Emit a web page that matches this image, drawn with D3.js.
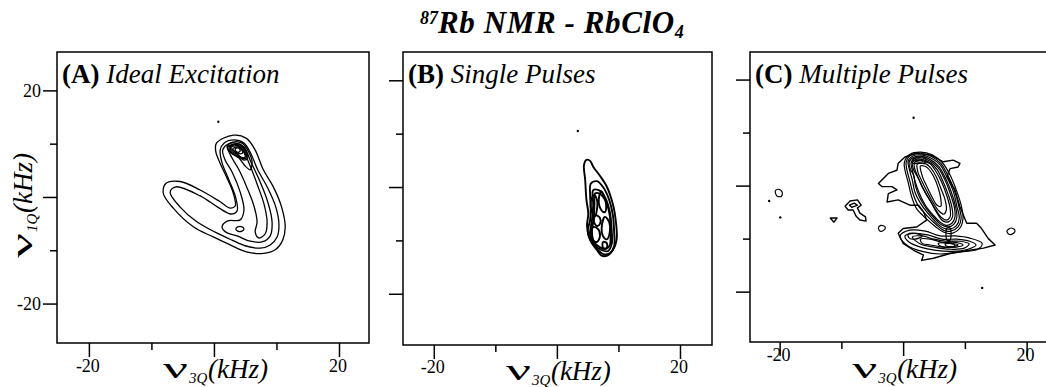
<!DOCTYPE html>
<html>
<head>
<meta charset="utf-8">
<script src="https://cdn.jsdelivr.net/npm/d3@7"></script>
<style>
  body { margin: 0; background: #fff; }
  svg { display: block; }
  text { font-family: "Liberation Serif", "Times New Roman", serif; fill: #000; }
</style>
</head>
<body>
<div id="chart"></div>
<script>
// ---- data (kHz) ----
const xTicks = [-20, -10, 0, 10, 20];
const yTicks = [20, 10, 0, -10, -20];
const majorTicks = [-20, 0, 20];
const xTickLabels = [-20, 20];
const yTickLabels = [20, -20];
const panelLetters = ['A', 'B', 'C'];
const panelTitles = ['Ideal Excitation', 'Single Pulses', 'Multiple Pulses'];

// (A) ideal excitation contours
const contoursA = [
  [[0.4,10.1],[3.1,11.6],[5.2,11.0],[6.6,8.8],[7.9,5.1],[9.5,1.9],[10.8,-1.8],[11.4,-5.6],[11.0,-8.1],[9.8,-9.9],[7.9,-10.6],[5.2,-10.3],[2.6,-9.0],[-0.1,-7.5],[-3.3,-5.6],[-6.5,-2.1],[-8.1,0.7],[-7.6,2.6],[-5.4,2.9],[-2.2,1.3],[1.0,-0.9],[2.6,-2.1],[3.4,-1.7],[3.1,0.7],[2.0,3.8],[1.0,6.3],[0.3,8.5]],
  [[-7.0,0.9],[-6.1,1.9],[-2.2,0.2],[0.6,-1.9],[2.7,-3.2],[3.7,-2.6],[3.5,-0.2],[2.4,3.2],[1.3,6.4],[1.0,8.8],[1.6,10.1],[3.2,10.7],[4.8,10.1],[5.8,8.4],[7.0,5.1],[8.6,1.7],[9.9,-1.9],[10.4,-5.2],[10.1,-7.5],[9.0,-9.0],[7.4,-9.6],[5.1,-9.2],[2.9,-8.1],[0.2,-6.6],[-2.9,-4.5],[-5.4,-1.9]],
  [[1.4,8.8],[2.2,9.9],[3.5,10.1],[4.8,9.4],[5.9,6.6],[7.4,2.8],[8.6,-0.9],[9.3,-4.7],[9.0,-7.3],[7.8,-8.4],[5.8,-8.3],[3.7,-7.3],[1.9,-6.6],[1.3,-5.6],[2.2,-4.5],[4.2,-4.3],[4.8,-2.4],[4.2,0.9],[2.9,4.7],[1.8,6.9]],
  [[2.2,9.4],[3.5,9.8],[4.6,8.8],[5.8,5.8],[7.0,2.1],[8.0,-1.3],[8.5,-4.7],[8.2,-6.9],[7.2,-7.7],[6.6,-6.6],[6.9,-4.7],[6.4,-1.7],[5.3,1.7],[4.0,5.1],[2.9,7.3]],
  [[3.5,-6.0],[3.8,-5.6],[4.5,-5.6],[4.8,-6.0],[4.5,-6.4],[3.8,-6.4]],
  [[2.1,9.4],[3.0,10.3],[4.5,10.1],[5.4,8.8],[6.1,6.6],[5.8,5.1],[5.0,5.8],[4.0,7.3],[2.7,8.3]],
  [[2.4,9.2],[3.2,9.9],[4.3,9.8],[5.1,8.6],[5.4,7.3],[4.8,6.9],[3.8,7.7],[2.7,8.4]],
  [[2.6,9.3],[3.3,9.8],[4.3,9.6],[5.0,8.5],[5.2,7.4],[4.6,7.2],[3.7,8.0],[2.8,8.6]],
  [[2.7,9.2],[3.4,9.6],[4.2,9.4],[4.8,8.4],[5.0,7.5],[4.3,7.5],[3.5,8.3]],
  [[3.0,9.0],[3.7,9.4],[4.3,9.0],[4.6,8.3],[4.2,8.1],[3.5,8.4]],
  [[3.4,9.0],[3.8,9.2],[4.2,8.8],[4.0,8.4],[3.5,8.6]]
];
const dotsA = [[0.7, 14.1]];

// (B) single pulses contours
const contoursB = [
  [[4.8,5.1],[5.4,4.9],[5.9,3.8],[7.0,2.1],[8.1,0.1],[8.9,-2.4],[9.4,-4.9],[9.7,-9.9],[9.1,-11.8],[8.1,-12.9],[7.2,-12.8],[6.5,-11.8],[5.4,-9.9],[4.9,-7.4],[5.1,-4.9],[4.8,-2.4],[4.6,1.3],[4.4,4.1]],
  [[5.5,0.6],[6.5,1.1],[7.5,0.0],[8.5,-2.4],[9.1,-5.3],[9.3,-8.4],[9.3,-11.1],[8.6,-12.4],[7.6,-12.6],[6.5,-11.6],[5.5,-10.1],[5.0,-8.3],[5.4,-6.2],[5.5,-3.9],[5.4,-1.5]],
  [[5.9,-0.6],[6.8,-0.6],[7.8,-1.9],[8.6,-4.7],[8.9,-8.1],[8.9,-10.7],[8.3,-12.0],[7.2,-11.8],[6.0,-10.7],[5.4,-8.8],[5.7,-6.2],[5.9,-3.4]],
  [[6.2,-1.2],[7.0,-1.3],[8.0,-2.8],[8.6,-5.4],[8.7,-8.5],[8.6,-10.9],[8.0,-11.6],[7.0,-11.3],[6.0,-10.2],[5.7,-8.4],[6.0,-5.8],[6.1,-3.2]],
  [[6.0,-1.5],[6.5,-2.4],[6.5,-4.3],[6.2,-5.4],[5.7,-4.7],[5.5,-2.8]],
  [[7.2,-0.8],[7.6,-1.5],[8.0,-3.2],[7.8,-4.7],[7.2,-4.3],[6.8,-2.4]],
  [[7.8,-5.6],[8.5,-6.6],[8.6,-8.4],[8.1,-9.8],[7.5,-9.2],[7.3,-7.3]],
  [[5.9,-7.5],[6.7,-7.9],[7.0,-9.2],[6.5,-10.3],[5.7,-9.8],[5.5,-8.4]],
  [[6.3,-5.3],[7.0,-5.8],[7.0,-6.9],[6.5,-7.3],[6.0,-6.4]],
  [[7.5,-10.3],[8.1,-10.5],[8.1,-11.4],[7.5,-11.4]]
];
const dotsB = [[3.4, 10.5]];

// (C) multiple pulses: jagged outer contour + islands
const outlineC = [
  [[-4.0,0.4],[-2.4,2.3],[-1.0,2.9],[-0.8,4.2],[0.3,5.4],[2.2,6.1],[4.4,5.8],[6.5,4.5],[8.1,4.8],[9.2,4.2],[8.9,3.5],[7.6,3.2],[7.1,1.7],[8.4,-0.8],[9.2,-4.0],[10.3,-7.1],[11.9,-7.1],[12.7,-8.1],[13.8,-10.0],[14.9,-11.2],[13.0,-11.8],[10.8,-12.2],[7.6,-12.8],[4.9,-13.7],[3.0,-14.1],[3.3,-13.1],[1.7,-12.2],[0.0,-10.9],[-0.8,-9.0],[0.0,-8.1],[2.2,-7.8],[3.8,-6.5],[3.3,-4.9],[2.5,-3.7],[1.1,-3.7],[-0.8,-2.7],[-2.6,-3.1],[-2.4,-1.5],[-1.0,-0.8],[-1.8,-0.2],[-3.4,-0.2]],
  [[-9.4,-3.9],[-8.6,-2.9],[-7.4,-2.7],[-6.8,-3.7],[-7.4,-4.2],[-7.0,-5.2],[-6.1,-5.9],[-6.0,-6.7],[-7.0,-6.5],[-7.6,-5.8],[-8.1,-4.6],[-8.9,-4.6]],
  [[-8.7,-3.7],[-7.9,-3.3],[-7.4,-3.7],[-8.3,-4.1]],
  [[-11.8,-6.1],[-10.7,-6.1],[-11.2,-6.9]]
];
const contoursC = [
  [[0.2,4.4],[1.1,5.9],[2.8,6.3],[4.7,5.8],[6.3,4.4],[7.6,2.0],[8.6,-0.8],[9.4,-3.7],[9.7,-6.1],[9.2,-8.0],[7.9,-9.0],[6.6,-8.8],[5.3,-7.8],[3.6,-6.1],[2.1,-4.2],[1.3,-1.8],[0.8,0.7],[0.3,2.9]],
  [[0.5,4.5],[1.3,5.8],[2.8,6.1],[4.6,5.5],[6.1,4.2],[7.3,1.8],[8.3,-0.9],[9.0,-3.8],[9.4,-6.1],[8.9,-7.8],[7.7,-8.6],[6.5,-8.4],[5.3,-7.3],[3.8,-5.6],[2.4,-3.7],[1.6,-1.5],[1.1,0.8],[0.6,3.0]],
  [[0.8,4.6],[1.6,5.6],[2.9,5.8],[4.5,5.2],[6.0,3.9],[7.1,1.6],[8.1,-1.0],[8.7,-3.9],[9.1,-6.1],[8.6,-7.6],[7.6,-8.2],[6.5,-8.0],[5.3,-6.9],[4.0,-5.2],[2.8,-3.3],[1.9,-1.2],[1.5,1.0],[1.0,3.1]],
  [[1.0,4.5],[1.8,5.4],[3.0,5.5],[4.4,4.9],[5.8,3.6],[6.9,1.3],[7.8,-1.2],[8.5,-4.0],[8.7,-6.0],[8.2,-7.3],[7.3,-7.8],[6.2,-7.4],[5.1,-6.2],[3.8,-4.4],[2.7,-2.3],[2.0,-0.1],[1.7,2.0],[1.2,3.0]],
  [[1.3,4.4],[2.1,5.2],[3.1,5.2],[4.4,4.6],[5.7,3.3],[6.8,1.0],[7.6,-1.4],[8.3,-4.1],[8.4,-5.9],[7.9,-7.1],[7.0,-7.5],[6.0,-6.9],[4.9,-5.6],[3.6,-3.7],[2.6,-1.4],[1.9,1.0],[1.5,2.9]],
  [[1.5,4.3],[2.2,5.0],[3.2,4.9],[4.4,4.3],[5.5,3.0],[6.5,0.7],[7.3,-1.7],[7.9,-4.1],[8.0,-5.9],[7.4,-6.8],[6.5,-6.7],[5.5,-5.2],[4.5,-3.1],[3.4,-0.9],[2.5,1.3],[1.7,3.0]],
  [[1.8,4.2],[2.4,4.8],[3.4,4.6],[4.4,4.1],[5.3,2.7],[6.3,0.5],[7.1,-2.0],[7.6,-4.2],[7.6,-5.9],[7.0,-6.5],[6.1,-5.9],[5.2,-4.4],[4.2,-2.5],[3.2,-0.5],[2.4,1.6],[1.9,3.1]],
  [[2.3,4.1],[2.9,4.2],[3.7,4.1],[4.5,3.3],[5.3,1.8],[6.1,-0.5],[6.8,-2.7],[7.0,-4.6],[6.6,-5.4],[5.8,-4.8],[4.9,-3.3],[4.0,-1.4],[3.1,0.7],[2.4,2.5]],
  [[2.8,3.7],[3.4,3.7],[4.0,3.3],[4.9,1.8],[5.7,-0.5],[6.1,-2.5],[6.1,-3.9],[5.5,-3.7],[4.7,-2.2],[3.9,-0.3],[3.1,1.8]],
  [[1.5,4.8],[2.4,5.4],[3.6,5.2],[3.6,4.4],[2.4,4.2],[1.6,4.2]],
  [[1.9,4.6],[2.8,4.8],[3.2,4.6],[2.8,4.4]],
  [[7.1,-8.0],[7.6,-8.0],[7.6,-10.3],[7.1,-10.3]],
  [[-0.5,-9.5],[1.1,-8.4],[3.6,-8.6],[6.0,-9.5],[8.4,-9.5],[10.8,-9.9],[12.8,-10.9],[12.1,-12.0],[9.2,-12.5],[6.0,-12.9],[3.1,-12.4],[0.8,-11.4]],
  [[0.3,-9.5],[1.9,-9.0],[4.0,-9.3],[6.3,-10.1],[8.7,-10.1],[10.8,-10.5],[11.8,-11.2],[10.5,-12.0],[7.9,-12.4],[5.3,-12.2],[2.8,-11.6],[1.0,-10.7]],
  [[1.5,-9.7],[3.1,-9.5],[5.0,-10.1],[7.0,-10.5],[9.2,-10.5],[10.7,-11.0],[9.9,-11.8],[7.6,-12.0],[5.0,-11.6],[2.8,-11.0]],
  [[2.8,-10.1],[4.4,-10.1],[6.3,-10.7],[8.4,-10.7],[9.7,-11.2],[8.6,-11.6],[6.5,-11.6],[4.4,-11.2],[3.1,-10.9]],
  [[5.7,-10.9],[7.6,-10.9],[8.9,-11.2],[7.6,-11.6],[6.0,-11.4]],
  [[6.8,-11.0],[8.1,-11.0],[8.4,-11.4],[7.0,-11.4]],
  [[0.8,-9.2],[1.9,-9.0],[3.1,-9.5],[1.9,-10.1],[1.0,-9.9]],
  [[-20.7,-1.0],[-20.1,-0.7],[-19.6,-1.2],[-19.7,-2.0],[-20.4,-2.0]],
  [[-4.0,-8.0],[-3.6,-7.5],[-2.9,-7.8],[-3.1,-8.4],[-3.7,-8.6]],
  [[16.8,-8.6],[17.5,-8.0],[18.1,-8.4],[17.9,-9.0],[17.2,-9.2]]
];
const dotsC = [[-21.7, -2.9], [-19.9, -6.0], [1.7, 12.8], [12.8, -19.3]];

// ---- layout ----
const width = 1046, height = 387;
const panels = [
  { box: { l: 57, t: 52, r: 369, b: 343 }, xDomain: [-25.1, 24.8], yDomain: [27.2, -27.4],
    contours: contoursA, jagged: [], dots: dotsA, stroke: 1.3, yLabels: true, xLabelY: 372, axisTitleY: 378 },
  { box: { l: 403, t: 52, r: 712, b: 345 }, xDomain: [-25.0, 25.2], yDomain: [25.3, -29.6],
    contours: contoursB, jagged: [], dots: dotsB, stroke: 1.9, yLabels: false, xLabelY: 373, axisTitleY: 380 },
  { box: { l: 750, t: 52, r: 1047, b: 342 }, xDomain: [-24.8, 23.3], yDomain: [25.2, -29.5],
    contours: contoursC, jagged: outlineC, dots: dotsC, stroke: 1.2, yLabels: false, xLabelY: 361, axisTitleY: 378 }
];

const svg = d3.select('#chart').append('svg')
  .attr('width', width)
  .attr('height', height);

// title
const title = svg.append('text')
  .attr('x', 420)
  .attr('y', 33)
  .attr('font-weight', 'bold')
  .attr('font-style', 'italic');
title.append('tspan').attr('font-size', 18).attr('dy', -9).text('87');
title.append('tspan').attr('font-size', 31).attr('dy', 9).attr('letter-spacing', 0.6).text('Rb NMR - RbClO');
title.append('tspan').attr('font-size', 18).attr('dy', 5).text('4');

// nu_sub (kHz) axis title, centred on 0 of a local frame
function axisTitle(g, sub) {
  g.append('text')
    .attr('x', -51)
    .attr('font-size', 30)
    .attr('font-family', '"DejaVu Serif", serif')
    .attr('textLength', 25)
    .attr('lengthAdjust', 'spacingAndGlyphs')
    .text('ν');
  g.append('text')
    .attr('x', -25)
    .attr('y', 5)
    .attr('font-size', 15)
    .attr('font-style', 'italic')
    .text(sub);
  g.append('text')
    .attr('x', -6)
    .attr('font-size', 27)
    .attr('font-style', 'italic')
    .text('(kHz)');
}

panels.forEach(function(p, i) {
  const x = d3.scaleLinear().domain(p.xDomain).range([p.box.l, p.box.r]);
  const y = d3.scaleLinear().domain(p.yDomain).range([p.box.t, p.box.b]);
  const g = svg.append('g');

  const clipId = 'clip' + i;
  g.append('clipPath').attr('id', clipId)
    .append('rect')
      .attr('x', p.box.l).attr('y', p.box.t)
      .attr('width', p.box.r - p.box.l).attr('height', p.box.b - p.box.t);

  // ticks: long majors, short minors
  const minor = xTicks.filter(d => majorTicks.indexOf(d) < 0);
  [[majorTicks, 14], [minor, 7]].forEach(function(t) {
    g.append('g')
      .attr('transform', `translate(0, ${p.box.b})`)
      .call(d3.axisBottom(x).tickValues(t[0]).tickSize(t[1]).tickSizeOuter(0).tickFormat(''))
      .call(a => a.select('.domain').remove())
      .selectAll('line').attr('stroke', '#000').attr('stroke-width', 1.5);
    g.append('g')
      .attr('transform', `translate(${p.box.l}, 0)`)
      .call(d3.axisLeft(y).tickValues(t[0]).tickSize(t[1]).tickSizeOuter(0).tickFormat(''))
      .call(a => a.select('.domain').remove())
      .selectAll('line').attr('stroke', '#000').attr('stroke-width', 1.5);
  });

  // tick labels
  g.selectAll('.xl').data(xTickLabels).enter().append('text')
    .attr('x', d => x(d) - 1)
    .attr('y', p.xLabelY)
    .attr('text-anchor', 'middle')
    .attr('font-size', 18)
    .text(d => String(d));
  if (p.yLabels) {
    g.selectAll('.yl').data(yTickLabels).enter().append('text')
      .attr('x', p.box.l - 16)
      .attr('y', d => y(d))
      .attr('dy', '0.35em')
      .attr('text-anchor', 'end')
      .attr('font-size', 18)
      .text(d => String(d));
  }

  // frame
  g.append('rect')
    .attr('x', p.box.l).attr('y', p.box.t)
    .attr('width', p.box.r - p.box.l).attr('height', p.box.b - p.box.t)
    .attr('fill', 'none')
    .attr('stroke', '#000')
    .attr('stroke-width', 1.5);

  // contours
  const plot = g.append('g').attr('clip-path', `url(#${clipId})`);
  const smooth = d3.line().x(d => x(d[0])).y(d => y(d[1])).curve(d3.curveCatmullRomClosed.alpha(0.5));
  const rough = d3.line().x(d => x(d[0])).y(d => y(d[1])).curve(d3.curveLinearClosed);
  plot.selectAll('.c').data(p.contours).enter().append('path')
    .attr('d', smooth)
    .attr('fill', 'none')
    .attr('stroke', '#000')
    .attr('stroke-width', p.stroke)
    .attr('stroke-linejoin', 'round');
  plot.selectAll('.j').data(p.jagged).enter().append('path')
    .attr('d', rough)
    .attr('fill', 'none')
    .attr('stroke', '#000')
    .attr('stroke-width', p.stroke + 0.2)
    .attr('stroke-linejoin', 'round');
  plot.selectAll('.dot').data(p.dots).enter().append('circle')
    .attr('cx', d => x(d[0]))
    .attr('cy', d => y(d[1]))
    .attr('r', 1.2)
    .attr('fill', '#000');

  // panel label
  const lab = g.append('text')
    .attr('x', p.box.l + 5)
    .attr('y', 83)
    .attr('font-size', 27);
  lab.append('tspan').attr('font-weight', 'bold').text('(' + panelLetters[i] + ')');
  lab.append('tspan').attr('font-style', 'italic').text(' ' + panelTitles[i]);

  // axis titles
  axisTitle(g.append('g').attr('transform', `translate(${x(0)}, ${p.axisTitleY})`), '3Q');
  if (p.yLabels) {
    axisTitle(g.append('g').attr('transform', `translate(32, ${y(0) + 10}) rotate(-90)`), '1Q');
  }
});
</script>
</body>
</html>
